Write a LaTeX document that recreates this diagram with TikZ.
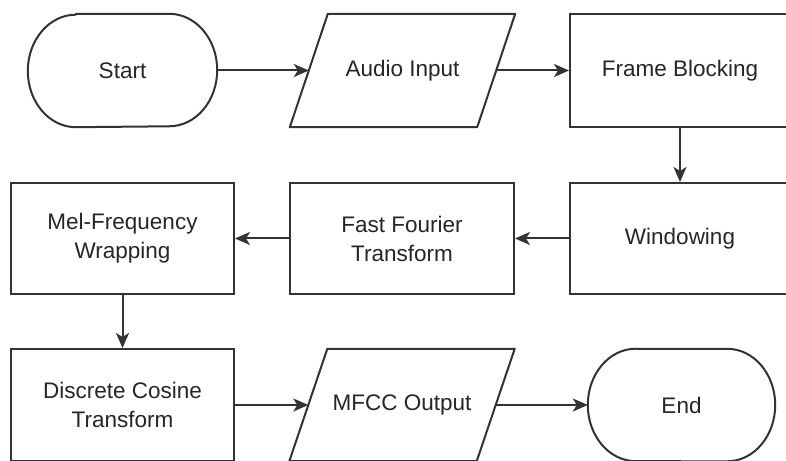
\documentclass[tikz,border=0pt]{standalone}
\usepackage{fontspec}
\setmainfont{Liberation Sans}
\usetikzlibrary{arrows.meta}
\definecolor{edge}{HTML}{333333}
\definecolor{txt}{HTML}{262626}
\begin{document}
\begin{tikzpicture}[x=1pt,y=1pt,
  label text/.style={inner sep=0pt, align=center, text=txt,
    font=\fontsize{22.5}{29}\selectfont},
  proc/.style={label text, rectangle, draw=edge, line width=2pt},
  term/.style={label text, rectangle},
  io/.style={label text, rectangle},
  outline/.style={draw=edge, line width=2pt, line join=round},
  flow/.style={draw=edge, line width=2pt,
    -{Stealth[length=15pt, width=13pt, inset=4pt]}}]
\useasboundingbox (0,0) rectangle (786,460);
\clip (0,0) rectangle (786,460);
\fill[white] (0,0) rectangle (786,460);

% row 1
\node[term, minimum width=189pt, minimum height=113pt] (start) at (122.5,389.5) {Start};
\node[io, minimum width=187pt, minimum height=113pt] (audio) at (402.5,389.5) {Audio Input};
\node[proc, minimum width=220pt, minimum height=113pt] (frame) at (680,389.5) {Frame Blocking};
% row 2
\node[proc, minimum width=220pt, minimum height=111pt] (window) at (680,221.5) {Windowing};
\node[proc, minimum width=224pt, minimum height=111pt] (fft) at (402,221.5) {Fast Fourier\\Transform};
\node[proc, minimum width=223pt, minimum height=111pt] (mel) at (122.5,221.5) {Mel-Frequency\\Wrapping};
% row 3
\node[proc, minimum width=223pt, minimum height=112pt] (dct) at (122.5,55) {Discrete Cosine\\Transform};
\node[io, minimum width=187pt, minimum height=112pt] (mfcc) at (402,55) {MFCC Output};
\node[term, minimum width=187pt, minimum height=112pt] (stop) at (681.5,55) {End};

% data (parallelogram) outlines
\foreach \n in {audio,mfcc}
  \draw[outline] ([xshift=19pt]\n.north west) -- ([xshift=19pt]\n.north east)
    -- ([xshift=-19pt]\n.south east) -- ([xshift=-19pt]\n.south west) -- cycle;
% terminator outlines
\foreach \n in {start,stop}
  \draw[outline] ([xshift=48pt]\n.north west) -- ([xshift=-48pt]\n.north east)
    arc[start angle=90, end angle=-90, x radius=48pt, y radius=56.25pt]
    -- ([xshift=48pt]\n.south west)
    arc[start angle=270, end angle=90, x radius=48pt, y radius=56.25pt] -- cycle;

% connectors
\draw[flow] (start) -- (audio);
\draw[flow] (audio) -- (frame);
\draw[flow] (frame) -- (window);
\draw[flow] (window) -- (fft);
\draw[flow] (fft) -- (mel);
\draw[flow] (mel) -- (dct);
\draw[flow] (dct) -- (mfcc);
\draw[flow] (mfcc) -- (stop);
\end{tikzpicture}
\end{document}
